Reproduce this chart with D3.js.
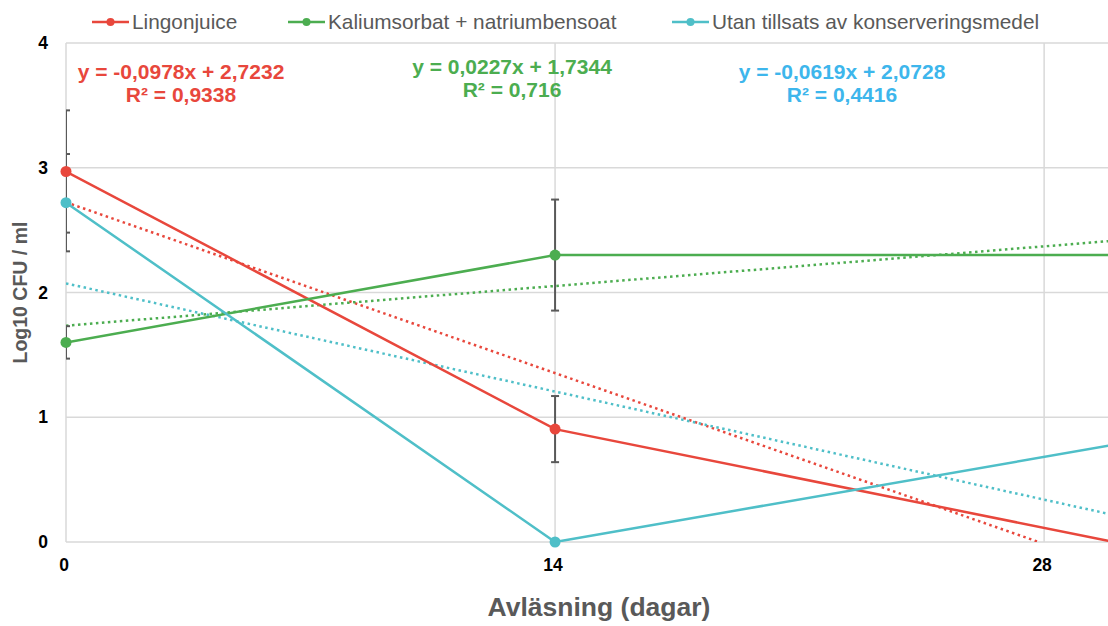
<!DOCTYPE html>
<html>
<head>
<meta charset="utf-8">
<script src="https://cdn.jsdelivr.net/npm/d3@7"></script>
<style>
  body { margin: 0; background: #fff; }
  text { font-family: "Liberation Sans", Arial, Helvetica, sans-serif; }
</style>
</head>
<body>
<script>
// data
var days = [0, 14, 30];
var seriesNames = ["Lingonjuice", "Kaliumsorbat + natriumbensoat", "Utan tillsats av konserveringsmedel"];
var lingon = [2.97, 0.905, 0];
var kalium = [1.60, 2.30, 2.30];
var utan = [2.72, 0, 0.78];
var lingonErr = [0.49, 0.265, 0];
var kaliumErr = [0.13, 0.445, 0];
var utanErr = [0.39, 0, 0];
var slopes = [-0.0978, 0.0227, -0.0619];
var intercepts = [2.7232, 1.7344, 2.0728];
var eqLabels = ["y = -0,0978x + 2,7232", "y = 0,0227x + 1,7344", "y = -0,0619x + 2,0728"];
var r2Labels = ["R² = 0,9338", "R² = 0,716", "R² = 0,4416"];
var xTicks = [0, 14, 28];
var yTicks = [0, 1, 2, 3, 4];

var lineColors = ["#e8473c", "#4cad50", "#4fbfc8"];
var eqColors = ["#e8473c", "#4cad50", "#3db6ec"];

var W = 1108, H = 626;
var margin = {top: 43, left: 66, bottom: 84};

var svg = d3.select("body").append("svg")
  .attr("width", W).attr("height", H);

var x = d3.scaleLinear().domain([0, 30]).range([margin.left, 1114]);
var y = d3.scaleLinear().domain([0, 4]).range([H - margin.bottom, margin.top]);

svg.append("defs").append("clipPath").attr("id", "plot")
  .append("rect")
  .attr("x", x(0)).attr("y", y(4) - 1)
  .attr("width", x(30) - x(0)).attr("height", y(0) - y(4) + 1);

// gridlines
svg.append("g").selectAll("line").data(yTicks).enter().append("line")
  .attr("x1", x(0)).attr("x2", W)
  .attr("y1", function(d){ return y(d); }).attr("y2", function(d){ return y(d); })
  .attr("stroke", "#d9d9d9").attr("stroke-width", 1.5);

svg.append("g").selectAll("line").data(xTicks).enter().append("line")
  .attr("x1", function(d){ return x(d); }).attr("x2", function(d){ return x(d); })
  .attr("y1", y(4)).attr("y2", y(0))
  .attr("stroke", "#d9d9d9").attr("stroke-width", 1.5);

// tick labels
svg.append("g").selectAll("text").data(yTicks).enter().append("text")
  .attr("x", 48).attr("y", function(d){ return y(d) + 6; })
  .attr("text-anchor", "end")
  .style("font-size", "17.5px").style("font-weight", "bold").attr("fill", "#000")
  .text(function(d){ return d; });

svg.append("g").selectAll("text").data(xTicks).enter().append("text")
  .attr("x", function(d){ return x(d) - 2; }).attr("y", 571)
  .attr("text-anchor", "middle")
  .style("font-size", "17.5px").style("font-weight", "bold").attr("fill", "#000")
  .text(function(d){ return d; });

// axis titles
svg.append("text")
  .attr("x", 599).attr("y", 616)
  .attr("text-anchor", "middle")
  .style("font-size", "26.5px").style("font-weight", "bold").attr("fill", "#595959")
  .text("Avläsning (dagar)");

svg.append("text")
  .attr("transform", "translate(27," + ((y(0) + y(4)) / 2) + ") rotate(-90)")
  .attr("text-anchor", "middle")
  .style("font-size", "19.5px").style("font-weight", "bold").attr("fill", "#595959")
  .text("Log10 CFU / ml");

var plot = svg.append("g").attr("clip-path", "url(#plot)");

var allSeries = [lingon, kalium, utan];
var allErr = [lingonErr, kaliumErr, utanErr];

// trendlines (dotted)
allSeries.forEach(function(s, k){
  var x0 = 0, x1 = 30;
  var f = function(t){ return slopes[k] * t + intercepts[k]; };
  if (f(x1) < 0) x1 = -intercepts[k] / slopes[k];
  plot.append("line")
    .attr("x1", x(x0)).attr("y1", y(f(x0)))
    .attr("x2", x(x1)).attr("y2", y(f(x1)))
    .attr("stroke", lineColors[k]).attr("stroke-width", 2.5)
    .attr("stroke-dasharray", "2.5,3.5");
});

// error bars
allSeries.forEach(function(s, k){
  s.forEach(function(v, i){
    var e = allErr[k][i];
    if (!e) return;
    var g = plot.append("g").attr("stroke", "#595959").attr("stroke-width", 2);
    g.append("line")
      .attr("x1", x(days[i])).attr("x2", x(days[i]))
      .attr("y1", y(v + e)).attr("y2", y(v - e));
    [v + e, v - e].forEach(function(c){
      g.append("line")
        .attr("x1", x(days[i]) - 4).attr("x2", x(days[i]) + 4)
        .attr("y1", y(c)).attr("y2", y(c));
    });
  });
});

// series lines + points
var line = d3.line()
  .x(function(d, i){ return x(days[i]); })
  .y(function(d){ return y(d); });

var pts = svg.append("g");
allSeries.forEach(function(s, k){
  plot.append("path").datum(s)
    .attr("d", line)
    .attr("fill", "none").attr("stroke", lineColors[k]).attr("stroke-width", 2.5);
  pts.selectAll(".pt" + k).data(s).enter().append("circle")
    .attr("class", "pt" + k)
    .attr("cx", function(d, i){ return x(days[i]); })
    .attr("cy", function(d){ return y(d); })
    .attr("r", 5.5)
    .attr("fill", lineColors[k]);
});

// trendline equations
var eqX = [181, 512, 842];
var eqY = [79, 74, 79];
eqLabels.forEach(function(t, k){
  svg.append("text")
    .attr("x", eqX[k]).attr("y", eqY[k])
    .attr("text-anchor", "middle")
    .style("font-size", "21px").style("font-weight", "bold").attr("fill", eqColors[k])
    .text(t);
  svg.append("text")
    .attr("x", eqX[k]).attr("y", eqY[k] + 23)
    .attr("text-anchor", "middle")
    .style("font-size", "21px").style("font-weight", "bold").attr("fill", eqColors[k])
    .text(r2Labels[k]);
});

// legend
var legX = [92, 288, 672];
seriesNames.forEach(function(n, k){
  var g = svg.append("g").attr("transform", "translate(" + legX[k] + ",22)");
  g.append("line").attr("x1", 0).attr("x2", 37).attr("y1", 0).attr("y2", 0)
    .attr("stroke", lineColors[k]).attr("stroke-width", 2.5);
  g.append("circle").attr("cx", 18.5).attr("cy", 0).attr("r", 4).attr("fill", lineColors[k]);
  g.append("text").attr("x", 40).attr("y", 7)
    .style("font-size", "20.8px").attr("fill", "#595959")
    .text(n);
});
</script>
</body>
</html>
